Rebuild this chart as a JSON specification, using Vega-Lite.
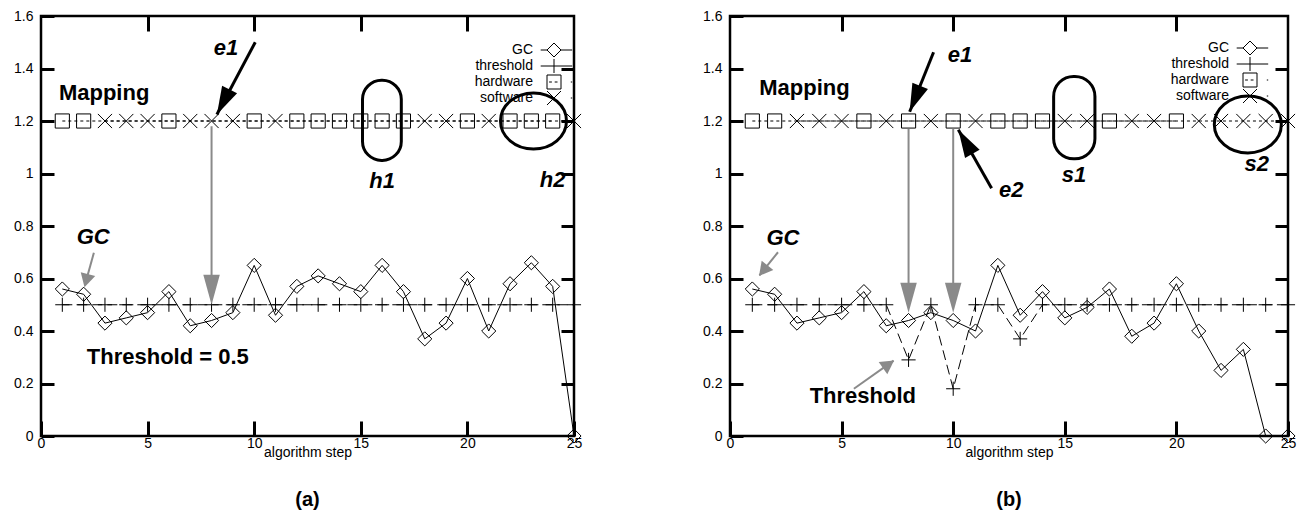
{
"$schema":"https://vega.github.io/schema/vega-lite/v6.json",
"padding":{"left":12,"top":7,"right":5,"bottom":5},
"background":"white",
"config":{"font":"Liberation Sans","view":{"stroke":"black","strokeWidth":2.5},
"axis":{"domain":false,"grid":false,"ticks":true,"tickColor":"black","tickOpacity":1,"tickWidth":3,"labelColor":"black","labelFontSize":14,"titleColor":"black","titleFontSize":14,"titleFontWeight":"normal"},
"title":{"fontSize":20,"fontWeight":"bold","color":"black"}},
"datasets":{
"a_series":[
{"step":1,"value":0.56,"series":"GC"},{"step":2,"value":0.54,"series":"GC"},{"step":3,"value":0.43,"series":"GC"},{"step":4,"value":0.45,"series":"GC"},{"step":5,"value":0.47,"series":"GC"},{"step":6,"value":0.55,"series":"GC"},{"step":7,"value":0.42,"series":"GC"},{"step":8,"value":0.44,"series":"GC"},{"step":9,"value":0.47,"series":"GC"},{"step":10,"value":0.65,"series":"GC"},{"step":11,"value":0.46,"series":"GC"},{"step":12,"value":0.57,"series":"GC"},{"step":13,"value":0.61,"series":"GC"},{"step":14,"value":0.58,"series":"GC"},{"step":15,"value":0.55,"series":"GC"},{"step":16,"value":0.65,"series":"GC"},{"step":17,"value":0.55,"series":"GC"},{"step":18,"value":0.37,"series":"GC"},{"step":19,"value":0.43,"series":"GC"},{"step":20,"value":0.6,"series":"GC"},{"step":21,"value":0.4,"series":"GC"},{"step":22,"value":0.58,"series":"GC"},{"step":23,"value":0.66,"series":"GC"},{"step":24,"value":0.57,"series":"GC"},{"step":25,"value":0,"series":"GC"},
{"step":1,"value":0.5,"series":"threshold"},{"step":2,"value":0.5,"series":"threshold"},{"step":3,"value":0.5,"series":"threshold"},{"step":4,"value":0.5,"series":"threshold"},{"step":5,"value":0.5,"series":"threshold"},{"step":6,"value":0.5,"series":"threshold"},{"step":7,"value":0.5,"series":"threshold"},{"step":8,"value":0.5,"series":"threshold"},{"step":9,"value":0.5,"series":"threshold"},{"step":10,"value":0.5,"series":"threshold"},{"step":11,"value":0.5,"series":"threshold"},{"step":12,"value":0.5,"series":"threshold"},{"step":13,"value":0.5,"series":"threshold"},{"step":14,"value":0.5,"series":"threshold"},{"step":15,"value":0.5,"series":"threshold"},{"step":16,"value":0.5,"series":"threshold"},{"step":17,"value":0.5,"series":"threshold"},{"step":18,"value":0.5,"series":"threshold"},{"step":19,"value":0.5,"series":"threshold"},{"step":20,"value":0.5,"series":"threshold"},{"step":21,"value":0.5,"series":"threshold"},{"step":22,"value":0.5,"series":"threshold"},{"step":23,"value":0.5,"series":"threshold"},{"step":24,"value":0.5,"series":"threshold"},{"step":25,"value":0.5,"series":"threshold"},
{"step":1,"value":1.2,"series":"hardware"},{"step":2,"value":1.2,"series":"hardware"},{"step":6,"value":1.2,"series":"hardware"},{"step":10,"value":1.2,"series":"hardware"},{"step":12,"value":1.2,"series":"hardware"},{"step":13,"value":1.2,"series":"hardware"},{"step":14,"value":1.2,"series":"hardware"},{"step":15,"value":1.2,"series":"hardware"},{"step":16,"value":1.2,"series":"hardware"},{"step":17,"value":1.2,"series":"hardware"},{"step":20,"value":1.2,"series":"hardware"},{"step":22,"value":1.2,"series":"hardware"},{"step":23,"value":1.2,"series":"hardware"},{"step":24,"value":1.2,"series":"hardware"},
{"step":3,"value":1.2,"series":"software"},{"step":4,"value":1.2,"series":"software"},{"step":5,"value":1.2,"series":"software"},{"step":7,"value":1.2,"series":"software"},{"step":8,"value":1.2,"series":"software"},{"step":9,"value":1.2,"series":"software"},{"step":11,"value":1.2,"series":"software"},{"step":18,"value":1.2,"series":"software"},{"step":19,"value":1.2,"series":"software"},{"step":21,"value":1.2,"series":"software"},{"step":25,"value":1.2,"series":"software"}],
"b_series":[
{"step":1,"value":0.56,"series":"GC"},{"step":2,"value":0.54,"series":"GC"},{"step":3,"value":0.43,"series":"GC"},{"step":4,"value":0.45,"series":"GC"},{"step":5,"value":0.47,"series":"GC"},{"step":6,"value":0.55,"series":"GC"},{"step":7,"value":0.42,"series":"GC"},{"step":8,"value":0.44,"series":"GC"},{"step":9,"value":0.47,"series":"GC"},{"step":10,"value":0.44,"series":"GC"},{"step":11,"value":0.4,"series":"GC"},{"step":12,"value":0.65,"series":"GC"},{"step":13,"value":0.46,"series":"GC"},{"step":14,"value":0.55,"series":"GC"},{"step":15,"value":0.45,"series":"GC"},{"step":16,"value":0.49,"series":"GC"},{"step":17,"value":0.56,"series":"GC"},{"step":18,"value":0.38,"series":"GC"},{"step":19,"value":0.43,"series":"GC"},{"step":20,"value":0.58,"series":"GC"},{"step":21,"value":0.4,"series":"GC"},{"step":22,"value":0.25,"series":"GC"},{"step":23,"value":0.33,"series":"GC"},{"step":24,"value":0,"series":"GC"},{"step":25,"value":0,"series":"GC"},
{"step":1,"value":0.5,"series":"threshold"},{"step":2,"value":0.5,"series":"threshold"},{"step":3,"value":0.5,"series":"threshold"},{"step":4,"value":0.5,"series":"threshold"},{"step":5,"value":0.5,"series":"threshold"},{"step":6,"value":0.5,"series":"threshold"},{"step":7,"value":0.5,"series":"threshold"},{"step":8,"value":0.29,"series":"threshold"},{"step":9,"value":0.5,"series":"threshold"},{"step":10,"value":0.18,"series":"threshold"},{"step":11,"value":0.5,"series":"threshold"},{"step":12,"value":0.5,"series":"threshold"},{"step":13,"value":0.37,"series":"threshold"},{"step":14,"value":0.5,"series":"threshold"},{"step":15,"value":0.5,"series":"threshold"},{"step":16,"value":0.5,"series":"threshold"},{"step":17,"value":0.5,"series":"threshold"},{"step":18,"value":0.5,"series":"threshold"},{"step":19,"value":0.5,"series":"threshold"},{"step":20,"value":0.5,"series":"threshold"},{"step":21,"value":0.5,"series":"threshold"},{"step":22,"value":0.5,"series":"threshold"},{"step":23,"value":0.5,"series":"threshold"},{"step":24,"value":0.5,"series":"threshold"},{"step":25,"value":0.5,"series":"threshold"},
{"step":1,"value":1.2,"series":"hardware"},{"step":2,"value":1.2,"series":"hardware"},{"step":6,"value":1.2,"series":"hardware"},{"step":8,"value":1.2,"series":"hardware"},{"step":10,"value":1.2,"series":"hardware"},{"step":12,"value":1.2,"series":"hardware"},{"step":13,"value":1.2,"series":"hardware"},{"step":14,"value":1.2,"series":"hardware"},{"step":17,"value":1.2,"series":"hardware"},{"step":20,"value":1.2,"series":"hardware"},
{"step":3,"value":1.2,"series":"software"},{"step":4,"value":1.2,"series":"software"},{"step":5,"value":1.2,"series":"software"},{"step":7,"value":1.2,"series":"software"},{"step":9,"value":1.2,"series":"software"},{"step":11,"value":1.2,"series":"software"},{"step":15,"value":1.2,"series":"software"},{"step":16,"value":1.2,"series":"software"},{"step":18,"value":1.2,"series":"software"},{"step":19,"value":1.2,"series":"software"},{"step":21,"value":1.2,"series":"software"},{"step":22,"value":1.2,"series":"software"},{"step":23,"value":1.2,"series":"software"},{"step":24,"value":1.2,"series":"software"},{"step":25,"value":1.2,"series":"software"}],
"a_bold":[{"x":0.84,"y":1.305,"text":"Mapping"},{"x":2.15,"y":0.3,"text":"Threshold = 0.5"}],
"a_ital":[{"x":8.68,"y":1.48,"text":"e1"},{"x":16.0,"y":0.97,"text":"h1"},{"x":24.0,"y":0.975,"text":"h2"},{"x":2.45,"y":0.76,"text":"GC"}],
"a_loop":[{"x":15.08,"x2":16.9,"y":1.05,"y2":1.355}],
"a_ellipse":[{"x":23.1,"y":1.2}],
"a_black":[{"x":10.05,"y":1.5,"x2":8.25,"y2":1.225,"angle":27}],
"a_grayline":[{"x":8,"y":1.18,"x2":8,"y2":0.52},{"x":2.48,"y":0.698,"x2":2.06,"y2":0.575}],
"a_grayhead":[{"x":8,"y":0.5,"angle":0}],
"a_grayhead_s":[{"x":2.04,"y":0.567,"angle":15}],
"b_bold":[{"x":1.31,"y":1.325,"text":"Mapping"},{"x":3.57,"y":0.153,"text":"Threshold"}],
"b_ital":[{"x":10.3,"y":1.45,"text":"e1"},{"x":12.6,"y":0.9375,"text":"e2"},{"x":15.41,"y":0.994,"text":"s1"},{"x":23.6,"y":1.0375,"text":"s2"},{"x":2.37,"y":0.756,"text":"GC"}],
"b_loop":[{"x":14.5,"x2":16.35,"y":1.056,"y2":1.37}],
"b_ellipse":[{"x":23.2,"y":1.187}],
"b_black":[{"x":9.12,"y":1.462,"x2":8.05,"y2":1.235,"angle":22},{"x":11.72,"y":0.944,"x2":10.23,"y2":1.167,"angle":150}],
"b_grayline":[{"x":8,"y":1.17,"x2":8,"y2":0.49},{"x":10,"y":1.17,"x2":10,"y2":0.49},{"x":2.15,"y":0.7,"x2":1.32,"y2":0.612},{"x":5.55,"y":0.18,"x2":7.33,"y2":0.287}],
"b_grayhead":[{"x":8,"y":0.47,"angle":0},{"x":10,"y":0.47,"angle":0}],
"b_grayhead_s":[{"x":1.3,"y":0.61,"angle":39},{"x":7.35,"y":0.288,"angle":235}]
},
"spacing":116,
"resolve":{"scale":{"shape":"independent"},"legend":{"shape":"independent"}},
"hconcat":[
{"width":533,"height":420,
"title":{"text":"(a)","orient":"bottom","offset":31},
"resolve":{"axis":{"x":"independent","y":"independent"},"scale":{"shape":"independent"}},
"layer":[
{"data":{"name":"a_series"},"transform":[{"filter":"datum.series === 'GC'"}],"mark":{"type":"line","color":"black","strokeWidth":1},
"encoding":{"x":{"field":"step","type":"quantitative","scale":{"domain":[0,25],"nice":false,"zero":false},"axis":{"orient":"bottom","values":[0,5,10,15,20,25],"offset":-15,"tickSize":15,"labelPadding":0,"title":"algorithm step","titlePadding":-5,"labelFlush":false,"zindex":2}},
"y":{"field":"value","type":"quantitative","scale":{"domain":[0,1.6],"nice":false},"axis":{"orient":"left","values":[0,0.2,0.4,0.6,0.8,1,1.2,1.4,1.6],"format":"~g","offset":-13,"tickSize":13,"labelPadding":8,"title":null,"labelFlush":false,"zindex":2}}}},
{"data":{"name":"a_series"},"transform":[{"filter":"datum.series === 'threshold'"}],"mark":{"type":"line","color":"black","strokeWidth":1,"strokeDash":[10,5]},
"encoding":{"x":{"field":"step","type":"quantitative","axis":null},"y":{"field":"value","type":"quantitative","axis":null}}},
{"data":{"name":"a_series"},"transform":[{"filter":"datum.series === 'hardware' || datum.series === 'software'"}],"mark":{"type":"line","color":"black","strokeWidth":1,"strokeDash":[3,3]},
"encoding":{"x":{"field":"step","type":"quantitative","axis":null},"y":{"field":"value","type":"quantitative","axis":null},"detail":{"field":"series"}}},
{"data":{"name":"a_series"},"mark":{"type":"point","filled":false,"color":"black","strokeWidth":1,"size":200,"opacity":1},
"encoding":{"x":{"field":"step","type":"quantitative","axis":{"orient":"top","values":[5,10,15,20],"offset":-15,"tickSize":15,"labels":false,"title":null,"zindex":2}},
"y":{"field":"value","type":"quantitative","axis":{"orient":"right","values":[0.2,0.4,0.6,0.8,1,1.2,1.4],"offset":-13,"tickSize":13,"labels":false,"title":null,"zindex":2}},
"shape":{"field":"series","type":"nominal","scale":{"domain":["GC","threshold","hardware","software"],"range":["diamond","M-1,0L1,0M0,-1L0,1","square","M-1,-1L1,1M-1,1L1,-1"]},"legend":null}}},
{"data":{"name":"a_series"},"transform":[{"filter":"false"}],"mark":{"type":"point","filled":false,"color":"black","strokeWidth":1,"opacity":1},
"encoding":{"x":{"field":"step","type":"quantitative","axis":null},"y":{"field":"value","type":"quantitative","axis":null},
"shape":{"field":"series","type":"nominal","scale":{"domain":["GC","threshold","hardware","software"],"range":["M-1.4,0L0,-1.4L1.4,0L0,1.4ZM-2.66,0L-1.4,0M1.4,0L3.64,0","M-2.66,0L3.64,0M0,-1.4L0,1.4","M-1.4,-1.4L1.4,-1.4L1.4,1.4L-1.4,1.4ZM-0.98,0L-0.42,0M0.14,0L0.7,0M3.36,0L3.64,0","M-1.4,-1.4L1.4,1.4M-1.4,1.4L1.4,-1.4M3.36,0L3.64,0"]},
"legend":{"orient":"none","legendX":506,"legendY":27,"title":null,"labelAlign":"right","labelOffset":-28,"labelFontSize":14,"labelColor":"black","symbolSize":100,"symbolStrokeWidth":1,"symbolStrokeColor":"black","symbolFillColor":"transparent","symbolOpacity":1,"rowPadding":-4,"padding":0}}}},
{"data":{"name":"a_grayline"},"mark":{"type":"rule","color":"#8a8a8a","strokeWidth":2},
"encoding":{"x":{"field":"x","type":"quantitative","axis":null},"y":{"field":"y","type":"quantitative","axis":null},"x2":{"field":"x2"},"y2":{"field":"y2"}}},
{"data":{"name":"a_grayhead"},"mark":{"type":"point","shape":"M0,0L-0.55,-2L0.55,-2Z","filled":true,"color":"#8a8a8a","size":900,"opacity":1,"strokeWidth":0},
"encoding":{"x":{"field":"x","type":"quantitative","axis":null},"y":{"field":"y","type":"quantitative","axis":null},"angle":{"field":"angle","type":"quantitative","scale":null}}},
{"data":{"name":"a_grayhead_s"},"mark":{"type":"point","shape":"M0,0L-1,-1.8L1,-1.8Z","filled":true,"color":"#8a8a8a","size":225,"opacity":1,"strokeWidth":0},
"encoding":{"x":{"field":"x","type":"quantitative","axis":null},"y":{"field":"y","type":"quantitative","axis":null},"angle":{"field":"angle","type":"quantitative","scale":null}}},
{"data":{"name":"a_black"},"mark":{"type":"rule","color":"black","strokeWidth":3},
"encoding":{"x":{"field":"x","type":"quantitative","axis":null},"y":{"field":"y","type":"quantitative","axis":null},"x2":{"field":"x2"},"y2":{"field":"y2"}}},
{"data":{"name":"a_black"},"mark":{"type":"point","shape":"M0,0L-0.6,-2L0.6,-2Z","filled":true,"color":"black","size":784,"opacity":1,"strokeWidth":0},
"encoding":{"x":{"field":"x2","type":"quantitative","axis":null},"y":{"field":"y2","type":"quantitative","axis":null},"angle":{"field":"angle","type":"quantitative","scale":null}}},
{"data":{"name":"a_loop"},"mark":{"type":"rect","filled":false,"color":"black","strokeWidth":3,"cornerRadius":19},
"encoding":{"x":{"field":"x","type":"quantitative","axis":null},"y":{"field":"y","type":"quantitative","axis":null},"x2":{"field":"x2"},"y2":{"field":"y2"}}},
{"data":{"name":"a_ellipse"},"mark":{"type":"point","shape":"M1,0C1,0.469 0.552,0.85 0,0.85C-0.552,0.85 -1,0.469 -1,0C-1,-0.469 -0.552,-0.85 0,-0.85C0.552,-0.85 1,-0.469 1,0Z","filled":false,"color":"black","strokeWidth":3,"size":4356,"opacity":1},
"encoding":{"x":{"field":"x","type":"quantitative","axis":null},"y":{"field":"y","type":"quantitative","axis":null}}},
{"data":{"name":"a_bold"},"mark":{"type":"text","fontSize":22,"fontWeight":"bold","align":"left","baseline":"middle","color":"black"},
"encoding":{"x":{"field":"x","type":"quantitative","axis":null},"y":{"field":"y","type":"quantitative","axis":null},"text":{"field":"text"}}},
{"data":{"name":"a_ital"},"mark":{"type":"text","fontSize":22,"fontWeight":"bold","fontStyle":"italic","align":"center","baseline":"middle","color":"black"},
"encoding":{"x":{"field":"x","type":"quantitative","axis":null},"y":{"field":"y","type":"quantitative","axis":null},"text":{"field":"text"}}}
]},
{"width":558,"height":420,
"title":{"text":"(b)","orient":"bottom","offset":31},
"resolve":{"axis":{"x":"independent","y":"independent"},"scale":{"shape":"independent"}},
"layer":[
{"data":{"name":"b_series"},"transform":[{"filter":"datum.series === 'GC'"}],"mark":{"type":"line","color":"black","strokeWidth":1},
"encoding":{"x":{"field":"step","type":"quantitative","scale":{"domain":[0,25],"nice":false,"zero":false},"axis":{"orient":"bottom","values":[0,5,10,15,20,25],"offset":-15,"tickSize":15,"labelPadding":0,"title":"algorithm step","titlePadding":-5,"labelFlush":false,"zindex":2}},
"y":{"field":"value","type":"quantitative","scale":{"domain":[0,1.6],"nice":false},"axis":{"orient":"left","values":[0,0.2,0.4,0.6,0.8,1,1.2,1.4,1.6],"format":"~g","offset":-13,"tickSize":13,"labelPadding":8,"title":null,"labelFlush":false,"zindex":2}}}},
{"data":{"name":"b_series"},"transform":[{"filter":"datum.series === 'threshold'"}],"mark":{"type":"line","color":"black","strokeWidth":1,"strokeDash":[10,5]},
"encoding":{"x":{"field":"step","type":"quantitative","axis":null},"y":{"field":"value","type":"quantitative","axis":null}}},
{"data":{"name":"b_series"},"transform":[{"filter":"datum.series === 'hardware' || datum.series === 'software'"}],"mark":{"type":"line","color":"black","strokeWidth":1,"strokeDash":[3,3]},
"encoding":{"x":{"field":"step","type":"quantitative","axis":null},"y":{"field":"value","type":"quantitative","axis":null},"detail":{"field":"series"}}},
{"data":{"name":"b_series"},"mark":{"type":"point","filled":false,"color":"black","strokeWidth":1,"size":200,"opacity":1},
"encoding":{"x":{"field":"step","type":"quantitative","axis":{"orient":"top","values":[5,10,15,20],"offset":-15,"tickSize":15,"labels":false,"title":null,"zindex":2}},
"y":{"field":"value","type":"quantitative","axis":{"orient":"right","values":[0.2,0.4,0.6,0.8,1,1.2,1.4],"offset":-13,"tickSize":13,"labels":false,"title":null,"zindex":2}},
"shape":{"field":"series","type":"nominal","scale":{"domain":["GC","threshold","hardware","software"],"range":["diamond","M-1,0L1,0M0,-1L0,1","square","M-1,-1L1,1M-1,1L1,-1"]},"legend":null}}},
{"data":{"name":"b_series"},"transform":[{"filter":"false"}],"mark":{"type":"point","filled":false,"color":"black","strokeWidth":1,"opacity":1},
"encoding":{"x":{"field":"step","type":"quantitative","axis":null},"y":{"field":"value","type":"quantitative","axis":null},
"shape":{"field":"series","type":"nominal","scale":{"domain":["GC","threshold","hardware","software"],"range":["M-1.4,0L0,-1.4L1.4,0L0,1.4ZM-2.66,0L-1.4,0M1.4,0L3.64,0","M-2.66,0L3.64,0M0,-1.4L0,1.4","M-1.4,-1.4L1.4,-1.4L1.4,1.4L-1.4,1.4ZM-0.98,0L-0.42,0M0.14,0L0.7,0M3.36,0L3.64,0","M-1.4,-1.4L1.4,1.4M-1.4,1.4L1.4,-1.4M3.36,0L3.64,0"]},
"legend":{"orient":"none","legendX":513,"legendY":25,"title":null,"labelAlign":"right","labelOffset":-28,"labelFontSize":14,"labelColor":"black","symbolSize":100,"symbolStrokeWidth":1,"symbolStrokeColor":"black","symbolFillColor":"transparent","symbolOpacity":1,"rowPadding":-4,"padding":0}}}},
{"data":{"name":"b_grayline"},"mark":{"type":"rule","color":"#8a8a8a","strokeWidth":2},
"encoding":{"x":{"field":"x","type":"quantitative","axis":null},"y":{"field":"y","type":"quantitative","axis":null},"x2":{"field":"x2"},"y2":{"field":"y2"}}},
{"data":{"name":"b_grayhead"},"mark":{"type":"point","shape":"M0,0L-0.55,-2L0.55,-2Z","filled":true,"color":"#8a8a8a","size":900,"opacity":1,"strokeWidth":0},
"encoding":{"x":{"field":"x","type":"quantitative","axis":null},"y":{"field":"y","type":"quantitative","axis":null},"angle":{"field":"angle","type":"quantitative","scale":null}}},
{"data":{"name":"b_grayhead_s"},"mark":{"type":"point","shape":"M0,0L-1,-1.8L1,-1.8Z","filled":true,"color":"#8a8a8a","size":225,"opacity":1,"strokeWidth":0},
"encoding":{"x":{"field":"x","type":"quantitative","axis":null},"y":{"field":"y","type":"quantitative","axis":null},"angle":{"field":"angle","type":"quantitative","scale":null}}},
{"data":{"name":"b_black"},"mark":{"type":"rule","color":"black","strokeWidth":3},
"encoding":{"x":{"field":"x","type":"quantitative","axis":null},"y":{"field":"y","type":"quantitative","axis":null},"x2":{"field":"x2"},"y2":{"field":"y2"}}},
{"data":{"name":"b_black"},"mark":{"type":"point","shape":"M0,0L-0.6,-2L0.6,-2Z","filled":true,"color":"black","size":784,"opacity":1,"strokeWidth":0},
"encoding":{"x":{"field":"x2","type":"quantitative","axis":null},"y":{"field":"y2","type":"quantitative","axis":null},"angle":{"field":"angle","type":"quantitative","scale":null}}},
{"data":{"name":"b_loop"},"mark":{"type":"rect","filled":false,"color":"black","strokeWidth":3,"cornerRadius":20},
"encoding":{"x":{"field":"x","type":"quantitative","axis":null},"y":{"field":"y","type":"quantitative","axis":null},"x2":{"field":"x2"},"y2":{"field":"y2"}}},
{"data":{"name":"b_ellipse"},"mark":{"type":"point","shape":"M1,0C1,0.469 0.552,0.85 0,0.85C-0.552,0.85 -1,0.469 -1,0C-1,-0.469 -0.552,-0.85 0,-0.85C0.552,-0.85 1,-0.469 1,0Z","filled":false,"color":"black","strokeWidth":3,"size":4489,"opacity":1},
"encoding":{"x":{"field":"x","type":"quantitative","axis":null},"y":{"field":"y","type":"quantitative","axis":null}}},
{"data":{"name":"b_bold"},"mark":{"type":"text","fontSize":22,"fontWeight":"bold","align":"left","baseline":"middle","color":"black"},
"encoding":{"x":{"field":"x","type":"quantitative","axis":null},"y":{"field":"y","type":"quantitative","axis":null},"text":{"field":"text"}}},
{"data":{"name":"b_ital"},"mark":{"type":"text","fontSize":22,"fontWeight":"bold","fontStyle":"italic","align":"center","baseline":"middle","color":"black"},
"encoding":{"x":{"field":"x","type":"quantitative","axis":null},"y":{"field":"y","type":"quantitative","axis":null},"text":{"field":"text"}}}
]}
]
}
